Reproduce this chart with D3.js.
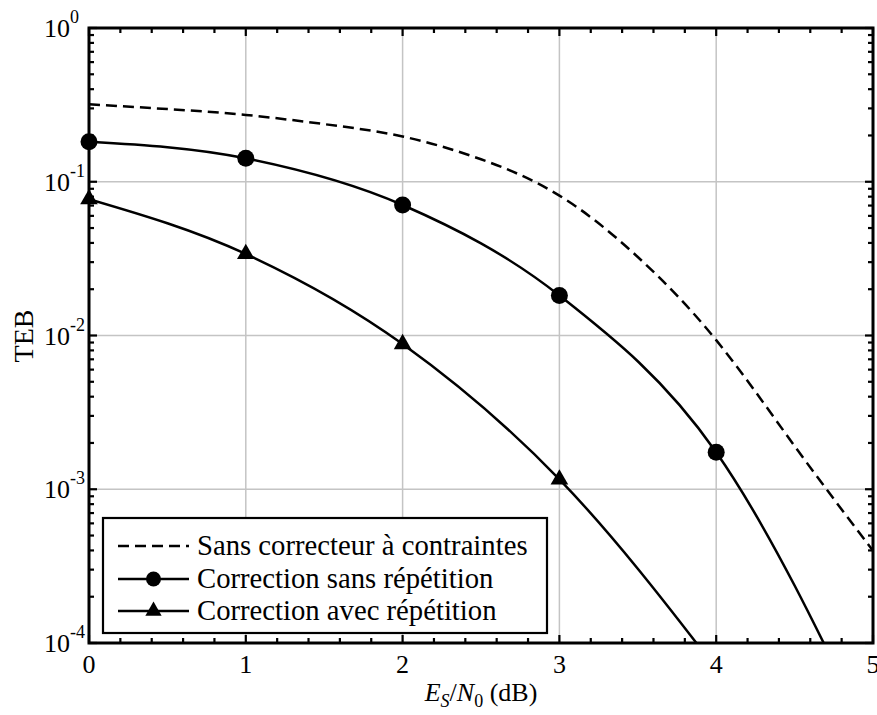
<!DOCTYPE html>
<html>
<head>
<meta charset="utf-8">
<script src="https://cdn.jsdelivr.net/npm/d3@7"></script>
<style>
  body { margin: 0; background: #fff; }
  text { font-family: "Liberation Serif", "Times New Roman", serif; fill: #000; }
</style>
</head>
<body>
<svg id="chart" width="877" height="715"></svg>
<script>
// Es/N0 (dB) sample points
const snr = [0, 1, 2, 3, 4, 5];
// Uncoded reference curve, sampled every 0.5 dB
const sansCorrecteurX = [0, 0.5, 1, 1.5, 2, 2.5, 3, 3.5, 4, 4.5, 5];
const sansCorrecteur  = [0.319, 0.297, 0.272, 0.237, 0.197, 0.140, 0.0813, 0.0324, 0.00933, 0.00191, 0.000398];
// Coded curves (one value per snr point)
const sansRepetition  = [0.182, 0.142, 0.0706, 0.0182, 0.00174, 0.000022];
const avecRepetition  = [0.077, 0.0339, 0.0088, 0.00116, 0.000068, 0.0000025];

const xTicks = [0, 1, 2, 3, 4, 5];
const yTickExps = [0, -1, -2, -3, -4];
const legendLabels = [
  "Sans correcteur à contraintes",
  "Correction sans répétition",
  "Correction avec répétition"
];

const svg = d3.select("#chart");
const m = { left: 89, right: 873, top: 28, bottom: 643 };

const x = d3.scaleLinear().domain([0, 5]).range([m.left, m.right]);
const y = d3.scaleLog().domain([1e-4, 1]).range([m.bottom, m.top]);

svg.append("defs").append("clipPath").attr("id", "plotClip")
  .append("rect")
  .attr("x", m.left).attr("y", m.top)
  .attr("width", m.right - m.left).attr("height", m.bottom - m.top);

// grid
const grid = svg.append("g").attr("stroke", "#c4c4c4").attr("stroke-width", 1.5);
grid.selectAll("line.gx").data(xTicks.slice(1, -1)).join("line")
  .attr("x1", d => x(d)).attr("x2", d => x(d))
  .attr("y1", m.top).attr("y2", m.bottom);
grid.selectAll("line.gy").data(yTickExps.slice(1, -1)).join("line")
  .attr("x1", m.left).attr("x2", m.right)
  .attr("y1", d => y(Math.pow(10, d))).attr("y2", d => y(Math.pow(10, d)));

// curves
const plot = svg.append("g").attr("clip-path", "url(#plotClip)");
const smooth = d3.line().x(d => x(d[0])).y(d => y(d[1])).curve(d3.curveNatural);
const line = d3.line().x(d => x(d[0])).y(d => y(d[1])).curve(d3.curveMonotoneX);

plot.append("path")
  .datum(sansCorrecteurX.map((v, i) => [v, sansCorrecteur[i]]))
  .attr("d", smooth).attr("fill", "none").attr("stroke", "#000")
  .attr("stroke-width", 2.5).attr("stroke-dasharray", "11,6");

plot.append("path")
  .datum(snr.map((v, i) => [v, sansRepetition[i]]))
  .attr("d", line).attr("fill", "none").attr("stroke", "#000").attr("stroke-width", 2.5);

plot.append("path")
  .datum(snr.map((v, i) => [v, avecRepetition[i]]))
  .attr("d", line).attr("fill", "none").attr("stroke", "#000").attr("stroke-width", 2.5);

// markers
const inRange = v => v >= 1e-4 && v <= 1;
svg.append("g").selectAll("circle")
  .data(snr.map((v, i) => [v, sansRepetition[i]]).filter(d => inRange(d[1])))
  .join("circle")
  .attr("cx", d => x(d[0])).attr("cy", d => y(d[1])).attr("r", 8.5).attr("fill", "#000");

const tri = d3.symbol().type(d3.symbolTriangle).size(135);
svg.append("g").selectAll("path")
  .data(snr.map((v, i) => [v, avecRepetition[i]]).filter(d => inRange(d[1])))
  .join("path")
  .attr("d", tri)
  .attr("transform", d => `translate(${x(d[0])},${y(d[1])})`)
  .attr("fill", "#000");

// ticks (inward, on all four sides)
const ticks = svg.append("g").attr("stroke", "#000").attr("stroke-width", 2.2);
const xMinor = d3.range(0, 5.001, 0.2).filter(v => Math.abs(v - Math.round(v)) > 1e-6);
const xAll = xTicks.map(v => [v, 8]).concat(xMinor.map(v => [v, 5]));
xAll.forEach(([v, len]) => {
  ticks.append("line").attr("x1", x(v)).attr("x2", x(v)).attr("y1", m.bottom).attr("y2", m.bottom - len);
  ticks.append("line").attr("x1", x(v)).attr("x2", x(v)).attr("y1", m.top).attr("y2", m.top + len);
});
const yAll = [];
yTickExps.forEach(e => yAll.push([Math.pow(10, e), 8]));
for (let e = -4; e < 0; e++) {
  for (let k = 2; k <= 9; k++) yAll.push([k * Math.pow(10, e), 5]);
}
yAll.forEach(([v, len]) => {
  ticks.append("line").attr("x1", m.left).attr("x2", m.left + len).attr("y1", y(v)).attr("y2", y(v));
  ticks.append("line").attr("x1", m.right).attr("x2", m.right - len).attr("y1", y(v)).attr("y2", y(v));
});

// frame
svg.append("rect")
  .attr("x", m.left).attr("y", m.top)
  .attr("width", m.right - m.left).attr("height", m.bottom - m.top)
  .attr("fill", "none").attr("stroke", "#000").attr("stroke-width", 3);

// tick labels
svg.append("g").selectAll("text").data(xTicks).join("text")
  .attr("x", d => x(d)).attr("y", 673)
  .attr("text-anchor", "middle").attr("font-size", 26)
  .text(d => d);

const yl = svg.append("g").selectAll("text").data(yTickExps).join("text")
  .attr("x", 44).attr("y", d => y(Math.pow(10, d)) + 9)
  .attr("font-size", 26);
yl.append("tspan").text("10");
yl.append("tspan").attr("dy", -14).attr("font-size", 18).text(d => d);

// axis titles
const xt = svg.append("text")
  .attr("x", 481).attr("y", 701).attr("text-anchor", "middle").attr("font-size", 26);
xt.append("tspan").attr("font-style", "italic").text("E");
xt.append("tspan").attr("font-style", "italic").attr("font-size", 18).attr("dy", 6).text("S");
xt.append("tspan").attr("dy", -6).text("/");
xt.append("tspan").attr("font-style", "italic").text("N");
xt.append("tspan").attr("font-size", 18).attr("dy", 6).text("0");
xt.append("tspan").attr("dy", -6).text(" (dB)");

svg.append("text")
  .attr("transform", "translate(33,336) rotate(-90)")
  .attr("text-anchor", "middle").attr("font-size", 28)
  .text("TEB");

// legend
const lg = svg.append("g");
lg.append("rect")
  .attr("x", 103).attr("y", 518).attr("width", 444).attr("height", 115)
  .attr("fill", "#fff").attr("stroke", "#000").attr("stroke-width", 2.2);
const rowsY = [546, 579, 611];
const sampleX0 = 118, sampleX1 = 189, sampleMid = 153.5;
legendLabels.forEach((lab, i) => {
  const ry = rowsY[i];
  lg.append("line")
    .attr("x1", sampleX0).attr("x2", sampleX1).attr("y1", ry).attr("y2", ry)
    .attr("stroke", "#000").attr("stroke-width", 2.5)
    .attr("stroke-dasharray", i === 0 ? "11,6" : null);
  if (i === 1) lg.append("circle").attr("cx", sampleMid).attr("cy", ry).attr("r", 7.5).attr("fill", "#000");
  if (i === 2) lg.append("path").attr("d", d3.symbol().type(d3.symbolTriangle).size(115))
    .attr("transform", `translate(${sampleMid},${ry})`).attr("fill", "#000");
  lg.append("text").attr("x", 197).attr("y", ry + 9).attr("font-size", 28.7).text(lab);
});
</script>
</body>
</html>
